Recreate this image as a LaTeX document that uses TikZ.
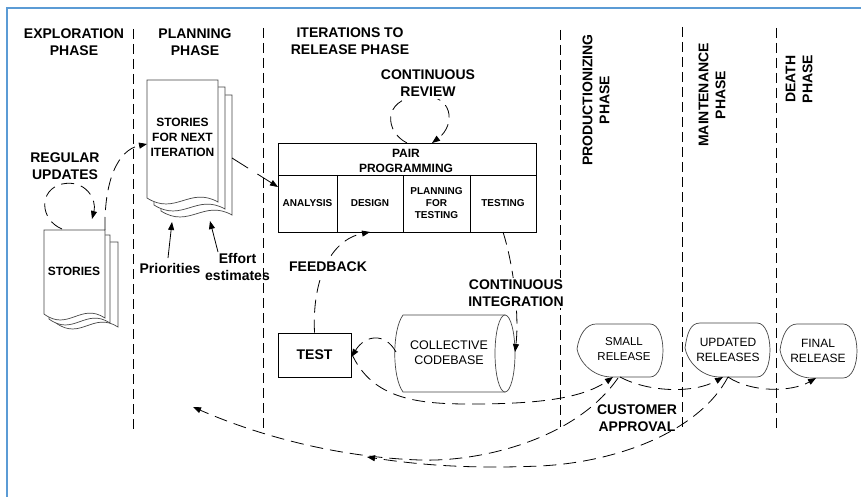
\documentclass[tikz,border=0pt]{standalone}
\usepackage{fontspec}
\setmainfont{Liberation Sans}
\usetikzlibrary{arrows.meta}
\definecolor{frameblue}{RGB}{91,155,213}
\definecolor{shapegray}{RGB}{70,70,70}
\newcommand\mypage[4]{%
  \filldraw[docline] (#1,#2) -- (#3,#2) -- (#3,{#4+4}) .. controls ({#1+0.6*(#3-#1)},{#4-12}) and ({#1+0.4*(#3-#1)},{#4+18}) .. (#1,#4) -- cycle;}
\newcommand\mydisplay[8]{%
  \filldraw[docline] (#1,#2) .. controls ({#1+2},{#2-14}) and ({#3-10},#5) .. (#3,#5) -- (#4,#5)
   .. controls ({#4+1.33*(#7-#4)},#5) and ({#4+1.33*(#7-#4)},#6) .. (#4,#6) -- (#8,#6)
   .. controls ({#8-20},#6) and ({#1+2},{#2+12}) .. cycle;}
\begin{document}
\begin{tikzpicture}[x=1pt,y=-1pt,
  hdr/.style={font=\fontsize{14}{17}\selectfont\bfseries, align=center, inner sep=1pt},
  cell/.style={font=\fontsize{10}{12}\selectfont\bfseries, align=center, inner sep=1pt},
  mid/.style={font=\fontsize{12}{15}\selectfont\bfseries, align=center, inner sep=1pt},
  plain/.style={font=\fontsize{12}{15}\selectfont, align=center, inner sep=1pt},
  docline/.style={draw=shapegray, fill=white, line width=0.7pt},
  sep/.style={draw=black, line width=0.8pt, dash pattern=on 10pt off 5pt},
  flow/.style={draw=black, line width=0.8pt, dash pattern=on 13pt off 7pt, -{Triangle[length=8pt,width=6pt]}},
  solidarrow/.style={draw=black, line width=0.8pt, -{Triangle[length=8pt,width=6pt]}},
  boxline/.style={draw=black, line width=0.8pt}
]
\useasboundingbox (0,0) rectangle (861,497);
\fill[white] (0,0) rectangle (861,497);
% frame
\draw[frameblue, line width=2pt] (7,497) -- (7,8) -- (861,8);

% phase separators
\draw[sep] (133,29) -- (133,430);
\draw[sep] (263,28) -- (263,428);
\draw[sep] (560,30) -- (560,427);
\draw[sep] (682,27) -- (682,430);
\draw[sep] (776,28) -- (776,428);

% headers
\node[hdr] (hexp) at (74,42.5) {EXPLORATION\\PHASE};
\node[hdr] (hplan) at (195,42.5) {PLANNING\\PHASE};
\node[hdr] (hiter) at (350,41.5) {ITERATIONS TO\\RELEASE PHASE};
\node[hdr, rotate=90] (hprod) at (596,100) {PRODUCTIONIZING\\PHASE};
\node[hdr, rotate=90] (hmaint) at (712,95) {MAINTENANCE\\PHASE};
\node[hdr, rotate=90] (hdeath) at (799,79) {DEATH\\PHASE};

% stories document (exploration)
\mypage{56}{242}{118}{323}
\mypage{49}{235}{110}{319}
\mypage{44}{230}{105}{314}
\node[mid] (stories) at (74,271) {STORIES};

% stories for next iteration
\mypage{161}{95}{232}{211}
\mypage{154}{87}{225}{205}
\mypage{147}{80}{218}{198}
\node[mid] (snext) at (182.5,137) {STORIES\\FOR NEXT\\ITERATION};

% regular updates
\node[hdr] (regup) at (65,166.5) {REGULAR\\UPDATES};
\coordinate (ru1) at (62,229);
\coordinate (ru2) at (92,219);
\draw[flow] (ru1) .. controls (40,220) and (38,190) .. (62,184) .. controls (86,179) and (97,200) .. (ru2);

% stories -> stories for next
\coordinate (st1) at (105,230);
\coordinate (sn1) at (147,144);
\draw[flow] (st1) .. controls (104,180) and (118,150) .. (sn1);

% pair programming box
\draw[boxline] (278,143) rectangle (536,232);
\draw[boxline] (278,175) -- (536,175);
\draw[boxline] (337,175) -- (337,232);
\draw[boxline] (403,175) -- (403,232);
\draw[boxline] (470,175) -- (470,232);
\node[mid] (pp) at (406,160.5) {PAIR\\PROGRAMMING};
\node[cell] (ana) at (307.5,203) {ANALYSIS};
\node[cell] (des) at (370,203) {DESIGN};
\node[cell] (pft) at (436.5,203) {PLANNING\\FOR\\TESTING};
\node[cell] (tst) at (503,203) {TESTING};

% stories for next -> analysis
\coordinate (sn2) at (232,158);
\coordinate (an1) at (278,187);
\draw[solidarrow, dash pattern=on 19pt off 11pt] (sn2) -- (an1);

% priorities / effort
\node[hdr, font=\fontsize{14}{17}\selectfont\bfseries] (prio) at (170,268) {Priorities};
\node[hdr] (effort) at (237.5,267) {Effort\\estimates};
\draw[solidarrow] (168,258) -- (172,222);
\draw[solidarrow] (218,252) -- (210,221);

% continuous review
\coordinate (cr1) at (407,143);
\coordinate (cr2) at (432,143);
\draw[flow] (cr1) .. controls (385,132) and (382,100) .. (418,96) .. controls (454,93) and (456,125) .. (cr2);
\node[hdr, fill=white, inner sep=2pt] (crev) at (428,83.5) {CONTINUOUS\\REVIEW};

% test box
\node[boxline, minimum width=73pt, minimum height=44pt, inner sep=0pt, font=\fontsize{14}{17}\selectfont\bfseries] (test) at (314.5,355) {TEST};

% feedback
\coordinate (fb2) at (370,232);
\draw[flow] (test.north) .. controls (312,280) and (330,240) .. (fb2);
\node[hdr, fill=white, inner sep=2pt] (feed) at (328,267) {FEEDBACK};

% collective codebase cylinder
\filldraw[docline] (403,315) -- (505,315) -- (505,392) -- (403,392) .. controls (392,377) and (392,330) .. (403,315) -- cycle;
\draw[docline] (505,353.5) ellipse (10 and 38.5);
\node[plain, font=\fontsize{12.5}{15}\selectfont] (code) at (449,352.5) {COLLECTIVE\\CODEBASE};

% continuous integration
\coordinate (ci1) at (503,232);
\coordinate (ci2) at (515,352);
\draw[flow] (ci1) .. controls (515,270) and (519,320) .. (ci2);
\node[hdr, fill=white, inner sep=2pt] (cint) at (516,293) {CONTINUOUS\\INTEGRATION};

% codebase -> test
\coordinate (cb1) at (396,352);
\draw[flow] (cb1) .. controls (385,332) and (365,335) .. ([yshift=-2pt]test.east);

% release shapes
\mydisplay{577}{349}{596}{650}{324}{377}{663}{612}
\mydisplay{685}{348}{700}{757}{323}{377}{770}{720}
\mydisplay{780}{350}{797}{843}{324}{378}{857}{812}
\node[plain, font=\fontsize{11.5}{15}\selectfont] (small) at (624,349.5) {SMALL\\RELEASE};
\node[plain] (upd) at (728,349.5) {UPDATED\\RELEASES};
\node[plain] (fin) at (818,350.5) {FINAL\\RELEASE};

\coordinate (sm1) at (613,377);
\coordinate (sm2) at (620,377);
\coordinate (up1) at (723,377);
\coordinate (up2) at (728,377);
\coordinate (fi1) at (816,378);

% test -> small release
\draw[flow] ([yshift=2pt]test.east) .. controls (372,400) and (420,404) .. (470,404) .. controls (530,404) and (580,400) .. (sm1);
% small -> updated
\draw[flow] (sm2) .. controls (650,393) and (695,393) .. (up1);
% updated -> final
\draw[flow] (up2) .. controls (752,393) and (792,392) .. (fi1);

% customer approval
\node[hdr] (cust) at (637,418.5) {CUSTOMER\\APPROVAL};

% feedback loops
\coordinate (lp1) at (193,407);
\coordinate (lp2) at (367,457);
\draw[flow] (618,378) .. controls (575,440) and (480,462) .. (420,460) .. controls (330,457) and (250,432) .. (lp1);
\draw[flow] (up2) .. controls (700,430) and (620,462) .. (540,466) .. controls (470,469) and (420,465) .. (lp2);
\end{tikzpicture}
\end{document}
